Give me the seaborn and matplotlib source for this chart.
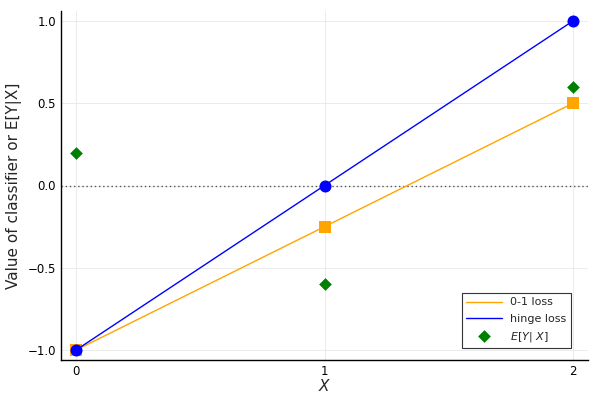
import numpy as np
import pandas as pd
import seaborn as sns
import matplotlib.pyplot as plt

x_vals = [0, 1, 2]
loss01 = [-1.0, -0.25, 0.5]
hinge = [-1.0, 0.0, 1.0]
cond_exp = [0.2, -0.6, 0.6]

df = pd.DataFrame({"X": x_vals, "loss01": loss01, "hinge": hinge, "cond": cond_exp})

sns.set_style("white")
plt.rcParams["font.family"] = ["DejaVu Sans"]

fig = plt.figure(figsize=(6, 4), dpi=100)
ax = fig.add_axes([0.1017, 0.1, 0.8783, 0.8725])

ax.axhline(0, color="#555555", linestyle=(0, (1, 2)), linewidth=1, zorder=1)

sns.lineplot(data=df, x="X", y="loss01", color="orange", linewidth=1, label="0-1 loss", ax=ax, zorder=2)
sns.scatterplot(data=df, x="X", y="loss01", color="orange", marker="s", s=85, linewidth=0, legend=False, ax=ax, zorder=3)
sns.lineplot(data=df, x="X", y="hinge", color="blue", linewidth=1, label="hinge loss", ax=ax, zorder=4)
sns.scatterplot(data=df, x="X", y="hinge", color="blue", marker="o", s=75, linewidth=0, legend=False, ax=ax, zorder=5)
sns.scatterplot(data=df, x="X", y="cond", color="green", marker="D", s=42, linewidth=0, label=r"$E[Y|\ X]$", ax=ax, zorder=6)

ax.set_xlim(-0.06, 2.06)
ax.set_ylim(-1.06, 1.06)
ax.set_xticks([0, 1, 2])
ax.set_yticks([-1.0, -0.5, 0.0, 0.5, 1.0])
ax.set_yticklabels(["\u22121.0", "\u22120.5", "0.0", "0.5", "1.0"])
ax.tick_params(direction="in", length=4, labelsize=8.5, colors="black")
ax.grid(True, color="#e8e8e8", linewidth=0.6)
for side in ["top", "right"]:
    ax.spines[side].set_visible(False)
for side in ["left", "bottom"]:
    ax.spines[side].set_color("black")
    ax.spines[side].set_linewidth(1)

ax.set_xlabel(r"$X$", fontsize=11, labelpad=0)
ax.set_ylabel("Value of classifier or E[Y|X]", fontsize=11)

leg = ax.legend(loc="lower right", bbox_to_anchor=(0.968, 0.034), borderaxespad=0,
                fontsize=8, frameon=True, fancybox=False, edgecolor="black",
                handlelength=3.2, labelspacing=0.55)
leg.get_frame().set_linewidth(0.8)

plt.savefig("out.png", dpi=100)
plt.close()
